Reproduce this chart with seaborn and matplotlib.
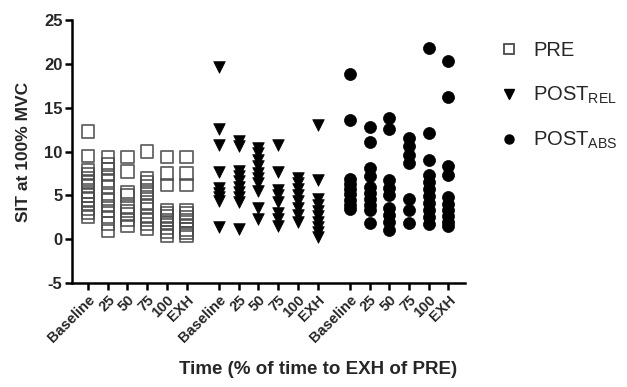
import numpy as np
import pandas as pd
import matplotlib
matplotlib.use("Agg")
import matplotlib.pyplot as plt
import seaborn as sns

# ---- data ----
time_labels = ["Baseline", "25", "50", "75", "100", "EXH"]
conditions = ["PRE", "POST$_{REL}$", "POST$_{ABS}$"]

pre = [
    [12.3, 9.5, 7.9, 7.4, 7.0, 6.6, 6.1, 5.4, 5.0, 4.5, 4.0, 3.5, 3.0, 2.5],
    [9.4, 8.5, 8.0, 7.3, 6.7, 6.0, 5.0, 4.4, 3.8, 3.2, 2.5, 1.8, 0.9],
    [9.4, 7.7, 5.4, 5.0, 3.7, 3.2, 2.8, 2.2, 1.5],
    [10.0, 7.0, 6.5, 6.0, 5.3, 4.8, 4.2, 3.7, 2.6, 2.2, 1.7, 1.2],
    [9.4, 7.5, 6.2, 3.3, 3.0, 2.6, 2.2, 1.8, 1.3, 0.8, 0.4],
    [9.4, 7.5, 6.2, 3.3, 2.9, 2.5, 2.1, 1.6, 1.1, 0.7, 0.4],
]
post_rel = [
    [19.7, 12.6, 10.7, 7.7, 5.8, 5.3, 4.8, 4.3, 1.4],
    [11.2, 10.6, 7.8, 7.2, 6.6, 6.0, 5.4, 4.8, 4.2, 1.2],
    [10.4, 9.8, 9.0, 8.3, 7.6, 7.0, 6.4, 5.5, 3.6, 2.3],
    [10.7, 7.7, 5.6, 5.0, 4.2, 3.0, 2.3, 1.5],
    [7.0, 6.4, 5.7, 5.0, 4.3, 3.6, 2.8, 2.0],
    [13.0, 6.7, 4.6, 3.9, 3.2, 2.6, 2.0, 1.4, 0.8, 0.2],
]
post_abs = [
    [18.8, 13.6, 6.9, 6.3, 5.7, 5.1, 4.5, 3.9, 3.4],
    [12.8, 11.1, 8.1, 7.2, 6.0, 5.3, 4.6, 3.9, 3.3, 1.8],
    [13.8, 12.6, 6.7, 5.8, 5.0, 3.5, 2.8, 2.0, 1.0],
    [11.5, 10.6, 9.6, 8.7, 4.6, 3.3, 1.8],
    [21.8, 12.1, 9.0, 7.3, 6.5, 5.7, 4.9, 4.1, 3.3, 2.5, 1.7],
    [20.3, 16.2, 8.4, 7.3, 4.8, 4.0, 3.3, 2.6, 2.0, 1.5],
]
series = [pre, post_rel, post_abs]

# ---- build table ----
group_offset = 6.65
rows = []
for g, (cond, ser) in enumerate(zip(conditions, series)):
    for t, vals in enumerate(ser):
        for v in vals:
            rows.append({"cond": cond, "time": time_labels[t],
                         "pos": g * group_offset + t, "val": v})
df = pd.DataFrame(rows)

sns.set_style("ticks")
plt.rcParams["font.family"] = ["Liberation Sans", "DejaVu Sans"]
plt.rcParams["mathtext.default"] = "regular"
plt.rcParams["axes.unicode_minus"] = False

fig = plt.figure(figsize=(6.27, 3.87), dpi=100)
ax = fig.add_axes([0.115, 0.269, 0.627, 0.679])

styles = {
    conditions[0]: dict(marker="s", s=80, facecolor="none", edgecolor="#4a4a4a", linewidth=1.3),
    conditions[1]: dict(marker="v", s=70, color="black", edgecolor="black", linewidth=0.5),
    conditions[2]: dict(marker="o", s=75, color="black", edgecolor="black", linewidth=0.5),
}
for cond in conditions:
    sub = df[df["cond"] == cond]
    sns.scatterplot(data=sub, x="pos", y="val", ax=ax, legend=False, **styles[cond])
    coll = ax.collections[-1]
    if cond == conditions[0]:
        coll.set_facecolor("none")
        coll.set_edgecolor("#4a4a4a")
        coll.set_alpha(0.85)

ax.set_ylim(-5, 25)
ax.set_yticks([-5, 0, 5, 10, 15, 20, 25])
ax.set_xlim(-0.81, 19.15)
positions = [g * group_offset + t for g in range(3) for t in range(6)]
ax.set_xticks(positions)
ax.set_xticklabels(time_labels * 3, rotation=45, ha="right", rotation_mode="anchor",
                   fontweight="bold", fontsize=10.5)
for lab in ax.get_yticklabels():
    lab.set_fontweight("bold")
    lab.set_fontsize(12)

for side in ["top", "right"]:
    ax.spines[side].set_visible(False)
for side in ["left", "bottom"]:
    ax.spines[side].set_linewidth(1.8)
    ax.spines[side].set_color("black")
ax.tick_params(axis="both", width=1.8, length=5, color="black", direction="out", pad=2)

ax.set_xlabel("")
ax.set_ylabel("SIT at 100% MVC", fontweight="bold", fontsize=12.5, labelpad=9)
fig.text(0.507, 0.044, "Time (% of time to EXH of PRE)", ha="center", va="center",
         fontweight="bold", fontsize=13.5)

leg_h = [
    plt.Line2D([], [], ls="none", marker="s", markersize=6.5, markerfacecolor="none",
               markeredgecolor="#4a4a4a", markeredgewidth=1.3),
    plt.Line2D([], [], ls="none", marker="v", markersize=6.5, color="black"),
    plt.Line2D([], [], ls="none", marker="o", markersize=6.5, color="black"),
]
fig.legend(leg_h, conditions, loc="upper left", bbox_to_anchor=(0.797, 0.893),
           frameon=False, fontsize=14.5, handlelength=0.9, handletextpad=0.75,
           labelspacing=1.2, borderpad=0, borderaxespad=0)

fig.savefig("out.png", dpi=100)
